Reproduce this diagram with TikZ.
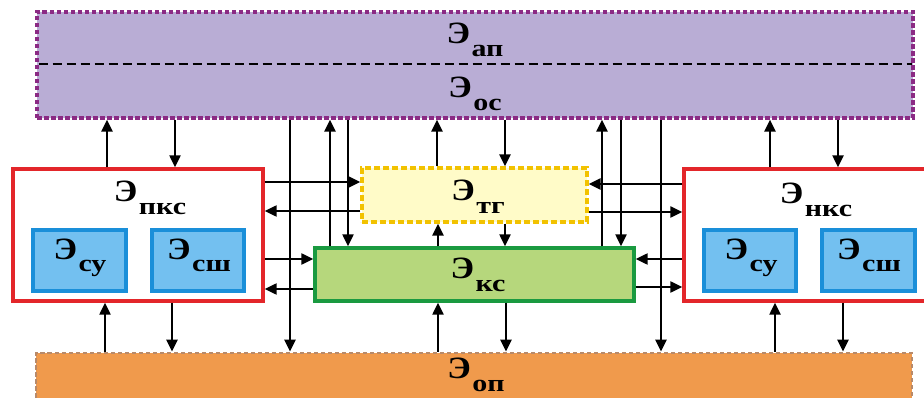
\documentclass[tikz,border=0pt]{standalone}
\usepackage{fontspec}
\usepackage{graphicx}
\setmainfont{Liberation Serif}
\usetikzlibrary{arrows.meta}
\definecolor{apfill}{HTML}{B9ADD5}
\definecolor{apline}{HTML}{8B2A84}
\definecolor{opfill}{HTML}{F09A4C}
\definecolor{opline}{HTML}{B88A6A}
\definecolor{tgfill}{HTML}{FFFBC8}
\definecolor{tgline}{HTML}{F2C200}
\definecolor{ksfill}{HTML}{B6D77C}
\definecolor{ksline}{HTML}{1A9A40}
\definecolor{redline}{HTML}{E3262A}
\definecolor{bluefill}{HTML}{73C0F0}
\definecolor{blueline}{HTML}{1A8FD9}
\newcommand{\lbl}[1]{\scalebox{1.12}[1]{\fontsize{31}{31}\selectfont\bfseries Э}\hspace{1.5pt}\raisebox{-13pt}{\scalebox{1.25}[1]{\fontsize{24}{24}\selectfont\bfseries #1}}}
\begin{document}
\begin{tikzpicture}[x=1pt,y=-1pt,
  box/.style={rectangle, inner sep=0pt},
  apbox/.style={box, fill=apfill, draw=apline, line width=3.2pt, dash pattern=on 4.5pt off 2.5pt},
  opbox/.style={box, fill=opfill, draw=opline, line width=2.8pt, dash pattern=on 4.5pt off 2.5pt},
  tgbox/.style={box, fill=tgfill, draw=tgline, line width=3.2pt, dash pattern=on 6pt off 3pt},
  ksbox/.style={box, fill=ksfill, draw=ksline, line width=3.4pt},
  redbox/.style={box, fill=white, draw=redline, line width=3.4pt},
  bluebox/.style={box, fill=bluefill, draw=blueline, line width=3.2pt},
  txt/.style={anchor=base, inner sep=0pt, text=black},
  arr/.style={line width=2.3pt, -{Triangle[length=12pt,width=11pt]}},
  divider/.style={line width=2.3pt, dash pattern=on 9pt off 5pt}]
\useasboundingbox (0,0) rectangle (924,398);
% boxes
\node[apbox, minimum width=876pt, minimum height=106pt] (ap) at (475,65) {};
\coordinate (dl) at (38.5,64);
\coordinate (dr) at (911.5,64);
\draw[divider] (dl) -- (dr);
\node[opbox, minimum width=876pt, minimum height=77pt] (op) at (474,391.5) {};
\node[redbox, minimum width=250pt, minimum height=132pt] (pks) at (138,235) {};
\node[redbox, minimum width=250pt, minimum height=132pt] (nks) at (809,235) {};
\node[bluebox, minimum width=93pt, minimum height=61pt] (su1) at (79.5,260.5) {};
\node[bluebox, minimum width=92pt, minimum height=61pt] (sh1) at (198,260.5) {};
\node[bluebox, minimum width=92pt, minimum height=61pt] (su2) at (750,260.5) {};
\node[bluebox, minimum width=93pt, minimum height=61pt] (sh2) at (868.5,260.5) {};
\node[tgbox, minimum width=225pt, minimum height=54pt] (tg) at (474.5,195) {};
\node[ksbox, minimum width=319pt, minimum height=53pt] (ks) at (474.5,274.5) {};
% labels
\node[txt] (tap) at (475,44) {\lbl{ап}};
\node[txt] (tos) at (475,98) {\lbl{ос}};
\node[txt] (tpks) at (150,202) {\lbl{пкс}};
\node[txt] (tnks) at (816,204) {\lbl{нкс}};
\node[txt] (tsu1) at (80,259) {\lbl{су}};
\node[txt] (tsh1) at (199,259) {\lbl{сш}};
\node[txt] (tsu2) at (751,259) {\lbl{су}};
\node[txt] (tsh2) at (869,259) {\lbl{сш}};
\node[txt] (ttg) at (478,201) {\lbl{тг}};
\node[txt] (tks) at (478,279) {\lbl{кс}};
\node[txt] (top) at (476,378) {\lbl{оп}};
% vertical connectors with top box
\draw[arr] (pks.north -| 107,0) -- (ap.south -| 107,0);
\draw[arr] (ap.south -| 175,0) -- (pks.north -| 175,0);
\draw[arr] (ap.south -| 290,0) -- (op.north -| 290,0);
\draw[arr] (ks.north -| 330,0) -- (ap.south -| 330,0);
\draw[arr] (ap.south -| 348,0) -- (ks.north -| 348,0);
\draw[arr] (tg.north -| 437,0) -- (ap.south -| 437,0);
\draw[arr] (ap.south -| 505,0) -- (tg.north -| 505,0);
\draw[arr] (ks.north -| 602,0) -- (ap.south -| 602,0);
\draw[arr] (ap.south -| 621,0) -- (ks.north -| 621,0);
\draw[arr] (ap.south -| 661,0) -- (op.north -| 661,0);
\draw[arr] (nks.north -| 770,0) -- (ap.south -| 770,0);
\draw[arr] (ap.south -| 838,0) -- (nks.north -| 838,0);
% tg <-> ks
\draw[arr] (ks.north -| 438,0) -- (tg.south -| 438,0);
\draw[arr] (tg.south -| 505,0) -- (ks.north -| 505,0);
% horizontal connectors
\draw[arr] (pks.east |- 0,182) -- (tg.west |- 0,182);
\draw[arr] (tg.west |- 0,211) -- (pks.east |- 0,211);
\draw[arr] (pks.east |- 0,259) -- (ks.west |- 0,259);
\draw[arr] (ks.west |- 0,289) -- (pks.east |- 0,289);
\draw[arr] (nks.west |- 0,184) -- (tg.east |- 0,184);
\draw[arr] (tg.east |- 0,212) -- (nks.west |- 0,212);
\draw[arr] (nks.west |- 0,259) -- (ks.east |- 0,259);
\draw[arr] (ks.east |- 0,287) -- (nks.west |- 0,287);
% bottom connectors
\draw[arr] (op.north -| 105,0) -- (pks.south -| 105,0);
\draw[arr] (pks.south -| 172,0) -- (op.north -| 172,0);
\draw[arr] (op.north -| 438,0) -- (ks.south -| 438,0);
\draw[arr] (ks.south -| 506,0) -- (op.north -| 506,0);
\draw[arr] (op.north -| 775,0) -- (nks.south -| 775,0);
\draw[arr] (nks.south -| 843,0) -- (op.north -| 843,0);
\end{tikzpicture}
\end{document}
